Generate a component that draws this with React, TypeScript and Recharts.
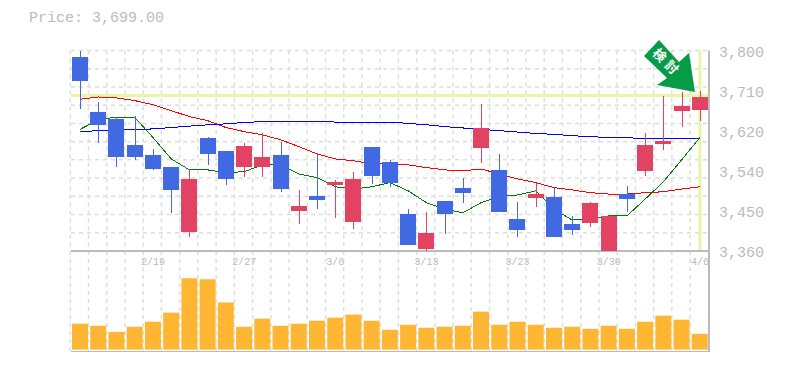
import React from "react";
import {
  Bar,
  CartesianGrid,
  ComposedChart,
  Line,
  ReferenceLine,
  XAxis,
  YAxis,
} from "recharts";

const dates = [
  "2/13", "2/14", "2/15", "2/16", "2/19", "2/20", "2/21", "2/22", "2/26", "2/27",
  "2/28", "3/1", "3/2", "3/5", "3/6", "3/7", "3/8", "3/9", "3/12", "3/13",
  "3/14", "3/15", "3/16", "3/20", "3/23", "3/26", "3/27", "3/28", "3/29", "3/30",
  "4/2", "4/3", "4/4", "4/5", "4/6",
];
const opens = [
  3785, 3664, 3650, 3593, 3571, 3545, 3402, 3609, 3580, 3545,
  3545, 3571, 3448, 3481, 3505, 3424, 3589, 3556, 3441, 3364,
  3470, 3499, 3587, 3538, 3430, 3477, 3479, 3419, 3422, 3360,
  3485, 3536, 3595, 3668, 3670,
];
const highs = [
  3800, 3688, 3653, 3657, 3584, 3545, 3539, 3611, 3580, 3598,
  3619, 3600, 3493, 3576, 3516, 3534, 3589, 3560, 3452, 3446,
  3470, 3521, 3683, 3573, 3468, 3510, 3501, 3437, 3468, 3439,
  3503, 3620, 3701, 3708, 3712,
];
const lows = [
  3672, 3598, 3545, 3560, 3538, 3444, 3391, 3548, 3504, 3523,
  3523, 3490, 3420, 3452, 3433, 3408, 3507, 3501, 3373, 3360,
  3397, 3466, 3554, 3446, 3391, 3457, 3391, 3395, 3413, 3360,
  3446, 3525, 3582, 3633, 3646,
];
const closes = [
  3732, 3636, 3567, 3567, 3539, 3493, 3518, 3572, 3517, 3591,
  3567, 3497, 3459, 3472, 3512, 3518, 3525, 3510, 3373, 3400,
  3441, 3488, 3631, 3446, 3406, 3485, 3391, 3406, 3466, 3437,
  3474, 3593, 3602, 3679, 3699,
];
const maLong = [
  3693, 3698, 3696, 3690, 3681, 3668, 3655, 3646, 3631, 3622,
  3615, 3604, 3589, 3573, 3562, 3558, 3551, 3551, 3549, 3543,
  3538, 3536, 3540, 3529, 3518, 3510, 3499, 3494, 3488, 3485,
  3485, 3488, 3490, 3496, 3501,
];
const maMid = [
  3622, 3624, 3626, 3626, 3628, 3631, 3634, 3637, 3639, 3642,
  3644, 3645, 3644, 3644, 3643, 3642, 3643, 3643, 3640, 3637,
  3633, 3630, 3627, 3624, 3621, 3618, 3616, 3613, 3611, 3609,
  3609, 3606, 3606, 3606, 3606,
];
const maShort = [
  3627, 3648, 3654, 3653, 3609, 3562, 3538, 3538, 3532, 3534,
  3549, 3549, 3529, 3521, 3501, 3496, 3501, 3510, 3492, 3466,
  3452, 3444, 3466, 3479, 3483, 3492, 3452, 3428, 3430, 3437,
  3437, 3474, 3512, 3560, 3609,
];
const volumes = [
  77, 71, 53, 68, 83, 110, 212, 209, 140, 68,
  92, 71, 77, 86, 95, 104, 86, 59, 74, 65,
  68, 71, 113, 74, 83, 74, 65, 68, 62, 71,
  62, 83, 101, 89, 47,
];

const dateTicks = ["2/19", "2/27", "3/6", "3/13", "3/23", "3/30", "4/6"];
const priceTicks = [3800, 3712, 3624, 3536, 3448, 3360];
const gridPrices = [3800, 3760, 3720, 3680, 3640, 3600, 3560, 3520, 3480, 3440, 3400, 3360];
const currentPrice = 3701;

const UP = "#e24363";
const DOWN = "#4169e1";
const GRID = "#dddddd";
const AXIS = "#bbbbbb";
const MONO = "'Liberation Mono', monospace";
const W = 785;
const MARGIN_LEFT = 71;
const MARGIN_RIGHT = 5;
const AXIS_W = 71;

const rows = dates.map((date, i) => ({
  date,
  open: opens[i],
  high: highs[i],
  low: lows[i],
  close: closes[i],
  maLong: maLong[i],
  maMid: maMid[i],
  maShort: maShort[i],
  volume: volumes[i],
}));

// grid lines sit between the candles, one per band
const bandEdges = ({ offset }: any) =>
  dates.map((_, i) => offset.left - 0.7 + (offset.width / dates.length) * i);

const Candle = (props: any) => {
  const { x, y, width, height, payload } = props;
  const perUnit = height / (payload.high - payload.low);
  const up = payload.close >= payload.open;
  const color = up ? UP : DOWN;
  const bodyTop = y + (payload.high - Math.max(payload.open, payload.close)) * perUnit;
  const bodyH = Math.max(Math.abs(payload.open - payload.close) * perUnit, 1);
  const mid = Math.round(x + width / 2);
  return (
    <g shapeRendering="crispEdges">
      <line x1={mid} x2={mid} y1={y} y2={y + height} stroke={color} strokeWidth={1} />
      <rect x={x} y={bodyTop} width={width} height={bodyH} fill={color} />
    </g>
  );
};

const Arrow = () => (
  <svg width={W} height={370} style={{ position: "absolute", left: 0, top: 0 }}>
    <polygon
      points="659,40 644,56 667,78 657,85 695,92 689,53 679,62"
      fill="#079b48"
    />
    <text
      x={660}
      y={60}
      fill="#ffffff"
      fontSize={13}
      fontWeight={700}
      fontFamily="'Noto Sans CJK JP'"
      textAnchor="middle"
      transform="rotate(45 660 55)"
    >
      検
    </text>
    <text
      x={672}
      y={72}
      fill="#ffffff"
      fontSize={13}
      fontWeight={700}
      fontFamily="'Noto Sans CJK JP'"
      textAnchor="middle"
      transform="rotate(45 672 67)"
    >
      討
    </text>
  </svg>
);

const App = () => (
  <div style={{ position: "relative", width: W, height: 370, margin: -8, background: "#fff" }}>
    <div
      style={{
        position: "absolute",
        left: 29,
        top: 10,
        font: `15px ${MONO}`,
        color: AXIS,
      }}
    >
      Price: 3,699.00
    </div>

    <div style={{ position: "absolute", left: 0, top: 250 }}>
      <ComposedChart
        width={W}
        height={102}
        data={rows}
        margin={{ top: 1, right: MARGIN_RIGHT, bottom: 0, left: MARGIN_LEFT }}
      >
        <CartesianGrid
          horizontal={false}
          stroke={GRID}
          strokeWidth={1.5}
          strokeDasharray="4 4"
          verticalCoordinatesGenerator={bandEdges}
        />
        <XAxis dataKey="date" hide />
        <YAxis
          orientation="right"
          width={AXIS_W}
          domain={[-7, 293]}
          tick={false}
          tickLine={false}
          axisLine={{ stroke: AXIS, strokeWidth: 2 }}
        />
        <ReferenceLine y={-7} stroke={AXIS} strokeWidth={2} />
        <Bar dataKey="volume" fill="#ffb733" barSize={16} isAnimationActive={false} />
      </ComposedChart>
    </div>

    <div style={{ position: "absolute", left: 0, top: 0 }}>
      <ComposedChart
        width={W}
        height={270}
        data={rows}
        margin={{ top: 50.5, right: MARGIN_RIGHT, bottom: 0, left: MARGIN_LEFT }}
      >
        <CartesianGrid
          stroke={GRID}
          strokeWidth={1.5}
          strokeDasharray="4 4"
          horizontalValues={gridPrices}
          verticalCoordinatesGenerator={bandEdges}
        />
        <XAxis
          dataKey="date"
          height={19}
          ticks={dateTicks}
          interval={0}
          tickLine={false}
          tickMargin={1}
          axisLine={{ stroke: AXIS, strokeWidth: 2 }}
          tick={{ fill: AXIS, fontSize: 10, fontFamily: MONO }}
        />
        <YAxis
          orientation="right"
          width={AXIS_W}
          domain={[3360, 3800]}
          ticks={priceTicks}
          allowDataOverflow
          interval={0}
          tickLine={false}
          tickMargin={4}
          axisLine={{ stroke: AXIS, strokeWidth: 2 }}
          tick={{ fill: AXIS, fontSize: 15, fontFamily: MONO, dy: 1 }}
          tickFormatter={(v: number) => (Math.round(v / 10) * 10).toLocaleString("en-US")}
        />
        <ReferenceLine y={currentPrice} stroke="#e6f5a8" strokeWidth={3} zIndex={-1} />
        <ReferenceLine x="4/6" stroke="#e6f5a8" strokeWidth={3} zIndex={-1} />
        <Line dataKey="maLong" stroke="#ff0000" strokeWidth={1} shapeRendering="crispEdges" dot={false} isAnimationActive={false} />
        <Line dataKey="maMid" stroke="#0000ff" strokeWidth={1} shapeRendering="crispEdges" dot={false} isAnimationActive={false} />
        <Line dataKey="maShort" stroke="#007a00" strokeWidth={1} shapeRendering="crispEdges" dot={false} isAnimationActive={false} />
        <Bar
          dataKey={(d: any) => [d.low, d.high]}
          barSize={16}
          shape={<Candle />}
          zIndex={500}
          isAnimationActive={false}
        />
      </ComposedChart>
    </div>

    <Arrow />
  </div>
);

export default App;
